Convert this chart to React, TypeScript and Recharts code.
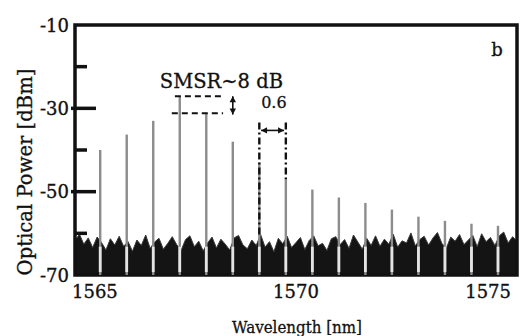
import React from 'react';
import {
    ComposedChart,
    Area,
    XAxis,
    YAxis,
    ReferenceLine,
    ReferenceArea,
    ReferenceDot,
} from 'recharts';

// comb lines of the spectrum (nm / dBm)
const peakWl = [1565.57, 1566.17, 1566.77, 1567.37, 1567.97, 1568.57, 1569.17, 1569.77, 1570.37, 1570.97, 1571.57, 1572.17, 1572.77, 1573.37, 1573.97, 1574.57];
const peakDbm = [-40, -36.3, -33, -27.1, -31.2, -38, -43, -47, -49.5, -51.4, -52.7, -54.3, -56, -57, -57.7, -58.2];

// noise floor, one reading every 0.1 nm from 1565 nm
const noiseStart = 1565;
const noiseStep = 0.1;
const noiseDbm = [
    -61.8, -60.2, -62.6, -61.1, -63.4, -60.9, -62.2, -64, -61.3, -62.8,
    -60.7, -63.1, -62, -64.3, -61.6, -62.9, -60.4, -63.6, -62.1, -61.2,
    -63.8, -62.4, -60.8, -62.7, -64.1, -61.5, -60.6, -63.2, -61.9, -64.2,
    -62.3, -60.9, -63.5, -61.4, -62.6, -64, -61.1, -60.5, -62.8, -63.7,
    -61.6, -62.9, -60.3, -63.3, -62, -64.4, -61.2, -62.5, -60.7, -63.4,
    -62.2, -61, -63.9, -61.7, -60.6, -63, -62.4, -64.1, -61.3, -60.8,
    -62.7, -61.5, -63.6, -60.4, -62.1, -63.8, -61.2, -62.9, -60.6, -63.1,
    -61.4, -62.6, -60.2, -63.3, -61.8, -62.3, -59.9, -63, -61.5, -60.7,
    -62.8, -61.1, -59.8, -62.4, -63.6, -60.9, -61.9, -60.3, -62.7, -61.6,
    -60.5, -63.2, -60.1, -62, -61, -62.9, -60.6, -59.7, -62.3, -60.8, -61.9,
];

const xTicks = [1565, 1570, 1575];
const yTicks = [-70, -60, -50, -40, -30, -20, -10];
const yLabelled = [-70, -50, -30, -10];

const data = noiseDbm.map((v, i) => ({ wl: +(noiseStart + i * noiseStep).toFixed(2), noise: v }));

const FONT = 'DejaVu Serif';
const INK = '#111';

const YTick = (props: any) => {
    const { x, y, payload } = props;
    const v = payload.value;
    const major = yLabelled.includes(v);
    const edge = v === -10 || v === -70;
    return (
        <g>
            {!edge && (
                <line x1={major ? x - 4 : x} y1={y} x2={x + (major ? 21 : 12)} y2={y} stroke={INK} strokeWidth={3.5} />
            )}
            {major && (
                <text x={x - 6} y={y + 6.5} textAnchor="end" fontSize={18} fontFamily={FONT} fill={INK}
                    stroke={INK} strokeWidth={0.35}>
                    {v}
                </text>
            )}
        </g>
    );
};

const XTick = (props: any) => {
    const { x, y, payload, index } = props;
    const anchor = index === 0 ? 'start' : index === xTicks.length - 1 ? 'end' : 'middle';
    const dx = index === 0 ? -3 : index === xTicks.length - 1 ? 3 : 0;
    return (
        <text x={x + dx} y={y + 23} textAnchor={anchor} fontSize={18} fontFamily={FONT} fill={INK}
            stroke={INK} strokeWidth={0.35}>
            {payload.value}
        </text>
    );
};

const YTitle = (props: any) => {
    const { viewBox } = props;
    const cx = viewBox.x + 25;
    const cy = viewBox.y + viewBox.height / 2 + 22;
    return (
        <text x={cx} y={cy} transform={`rotate(-90 ${cx} ${cy})`} textAnchor="middle" dominantBaseline="central"
            fontSize={19.6} fontFamily={FONT} fill={INK} stroke={INK} strokeWidth={0.3}>
            Optical Power [dBm]
        </text>
    );
};

const XTitle = (props: any) => {
    const { viewBox } = props;
    return (
        <text x={viewBox.x + viewBox.width / 2 + 1} y={viewBox.y + 58} textAnchor="middle" fontSize={17}
            fontFamily={FONT} fill={INK} stroke={INK} strokeWidth={0.3} textLength={130} lengthAdjust="spacingAndGlyphs">
            Wavelength [nm]
        </text>
    );
};

// line with arrow heads on both ends
const arrowShape = (props: any) => {
    const { x1, y1, x2, y2 } = props;
    const ang = Math.atan2(y2 - y1, x2 - x1);
    const head = (px: number, py: number, a: number) => {
        const l = 6, w = 3.2;
        const bx = px - l * Math.cos(a), by = py - l * Math.sin(a);
        const nx = -Math.sin(a) * w, ny = Math.cos(a) * w;
        return <polygon points={`${px},${py} ${bx + nx},${by + ny} ${bx - nx},${by - ny}`} fill={INK} />;
    };
    return (
        <g>
            <line x1={x1} y1={y1} x2={x2} y2={y2} stroke={INK} strokeWidth={1.6} />
            {head(x2, y2, ang)}
            {head(x1, y1, ang + Math.PI)}
        </g>
    );
};

const textShape = (label: string, size: number, anchor: string) => (p: any) => (
    <text x={p.cx} y={p.cy} textAnchor={anchor} fontSize={size} fontFamily={FONT} fill={INK}
        stroke={INK} strokeWidth={0.3}>
        {label}
    </text>
);

export default function App() {
    return (
        <div style={{ position: 'absolute', left: 0, top: 0, width: 524, height: 336, background: '#fff' }}>
            <ComposedChart width={524} height={336} data={data} margin={{ top: 25, right: 7, left: 0, bottom: 0 }}>
                <XAxis
                    dataKey="wl"
                    type="number"
                    domain={[1565, 1575]}
                    ticks={xTicks}
                    allowDataOverflow
                    height={61}
                    tickSize={0}
                    tickMargin={0}
                    axisLine={false}
                    tick={<XTick />}
                    label={<XTitle />}
                />
                <YAxis
                    type="number"
                    domain={[-70, -10]}
                    ticks={yTicks}
                    allowDataOverflow
                    width={75}
                    tickSize={0}
                    tickMargin={0}
                    axisLine={false}
                    tick={<YTick />}
                    label={<YTitle />}
                />

                <Area
                    type="linear"
                    dataKey="noise"
                    baseValue={-70}
                    stroke="#3a3a3a"
                    strokeWidth={1}
                    fill="#141414"
                    fillOpacity={1}
                    isAnimationActive={false}
                />

                {peakWl.map((wl, i) => (
                    <ReferenceLine key={'p' + i} segment={[{ x: wl, y: -70 }, { x: wl, y: peakDbm[i] }]}
                        stroke="#8c8c8c" strokeWidth={2.4} />
                ))}
                {peakWl.map((wl, i) => (
                    <ReferenceLine key={'w' + i} segment={[{ x: wl, y: -69.3 }, { x: wl, y: -63.2 }]}
                        stroke="#e4e4e4" strokeWidth={2.8} />
                ))}

                {/* SMSR markers */}
                <ReferenceLine segment={[{ x: 1567.26, y: peakDbm[3] }, { x: 1568.35, y: peakDbm[3] }]}
                    stroke={INK} strokeWidth={2} strokeDasharray="6 4" />
                <ReferenceLine segment={[{ x: 1567.19, y: peakDbm[4] }, { x: 1568.35, y: peakDbm[4] }]}
                    stroke={INK} strokeWidth={2} strokeDasharray="6 4" />
                <ReferenceLine segment={[{ x: 1568.57, y: peakDbm[3] }, { x: 1568.57, y: peakDbm[4] - 0.3 }]}
                    shape={arrowShape} />

                {/* 0.6 nm spacing */}
                <ReferenceLine segment={[{ x: peakWl[6], y: -33.4 }, { x: peakWl[6], y: -61 }]}
                    stroke={INK} strokeWidth={2.4} strokeDasharray="7 3 2 3" />
                <ReferenceLine segment={[{ x: peakWl[7], y: -33.4 }, { x: peakWl[7], y: peakDbm[7] }]}
                    stroke={INK} strokeWidth={2.4} strokeDasharray="7 3 2 3" />
                <ReferenceLine segment={[{ x: peakWl[6] + 0.04, y: -35.3 }, { x: peakWl[7] - 0.04, y: -35.3 }]}
                    shape={arrowShape} />

                <ReferenceDot x={1566.92} y={-25.2} r={0} shape={textShape('SMSR~8 dB', 19.5, 'start')} />
                <ReferenceDot x={1569.5} y={-29.8} r={0} shape={textShape('0.6', 16, 'middle')} />
                <ReferenceDot x={1574.55} y={-17.5} r={0} shape={textShape('b', 18, 'middle')} />

                <ReferenceArea x1={1565} x2={1575} y1={-70} y2={-10} fill="none" fillOpacity={0}
                    stroke={INK} strokeWidth={3.5} />
            </ComposedChart>
        </div>
    );
}
